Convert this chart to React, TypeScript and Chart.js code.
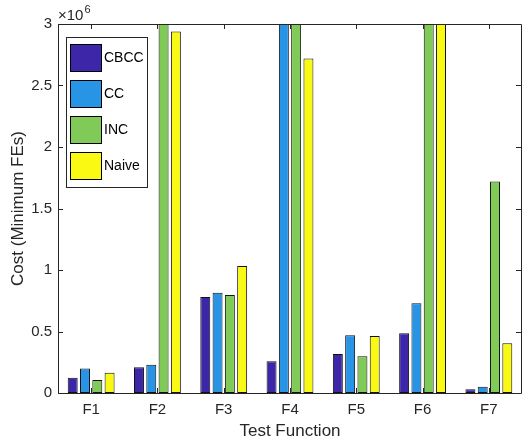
import React, { useEffect, useRef } from "react";
import { Chart, registerables } from "chart.js";

Chart.register(...registerables);

const categories = ["F1", "F2", "F3", "F4", "F5", "F6", "F7"];
const seriesNames = ["CBCC", "CC", "INC", "Naive"];
const cbcc = [0.124e6, 0.21e6, 0.78e6, 0.258e6, 0.317e6, 0.485e6, 0.03e6];
const cc = [0.2e6, 0.23e6, 0.815e6, 3.5e6, 0.469e6, 0.73e6, 0.05e6];
const inc = [0.105e6, 3.5e6, 0.797e6, 3.5e6, 0.298e6, 3.5e6, 1.72e6];
const naive = [0.165e6, 2.94e6, 1.032e6, 2.72e6, 0.463e6, 3.5e6, 0.404e6];
const seriesColors = ["#3e26a8", "#2894e6", "#80cb58", "#f9f914"];
const yTickValues = [0, 0.5e6, 1e6, 1.5e6, 2e6, 2.5e6, 3e6];

const FONT = '"Liberation Sans", Arial, Helvetica, sans-serif';
const AXIS_COLOR = "#262626";

const framePlugin = {
  id: "matlabFrame",
  afterDraw(chart: any) {
    const { ctx, chartArea } = chart;
    const { left, right, top, bottom } = chartArea;
    const xs = chart.scales.x;
    const ys = chart.scales.y;
    ctx.save();
    ctx.strokeStyle = AXIS_COLOR;
    ctx.lineWidth = 1;
    ctx.beginPath();
    ctx.rect(Math.round(left) + 0.5, Math.round(top) + 0.5, Math.round(right - left) - 1, Math.round(bottom - top));
    ctx.stroke();
    // inward ticks
    ctx.beginPath();
    const tl = 5;
    yTickValues.forEach((v) => {
      const y = Math.round(ys.getPixelForValue(v)) + 0.5;
      ctx.moveTo(left, y);
      ctx.lineTo(left + tl, y);
      ctx.moveTo(right - 1, y);
      ctx.lineTo(right - 1 - tl, y);
    });
    categories.forEach((_, i) => {
      const x = Math.round(xs.getPixelForValue(i)) + 0.5;
      ctx.moveTo(x, top);
      ctx.lineTo(x, top + tl);
      ctx.moveTo(x, bottom);
      ctx.lineTo(x, bottom - tl);
    });
    ctx.stroke();
    // exponent label
    ctx.fillStyle = AXIS_COLOR;
    ctx.textBaseline = "alphabetic";
    ctx.textAlign = "left";
    ctx.font = `15px ${FONT}`;
    const base = "\u00d710";
    ctx.fillText(base, left, top - 4);
    const w = ctx.measureText(base).width;
    ctx.font = `11px ${FONT}`;
    ctx.fillText("6", left + w + 1, top - 11);
    // legend
    const lx = 66.5, ly = 37.5, lw = 81, lh = 150;
    ctx.fillStyle = "#ffffff";
    ctx.fillRect(lx, ly, lw, lh);
    ctx.strokeStyle = AXIS_COLOR;
    ctx.strokeRect(lx, ly, lw, lh);
    seriesNames.forEach((name, i) => {
      const py = 44 + i * 36;
      ctx.fillStyle = seriesColors[i];
      ctx.fillRect(70.5, py + 0.5, 31, 27);
      ctx.strokeStyle = "#000000";
      ctx.strokeRect(70.5, py + 0.5, 31, 27);
      ctx.fillStyle = "#000000";
      ctx.font = `14px ${FONT}`;
      ctx.textBaseline = "middle";
      ctx.fillText(name, 104, py + 14.5);
    });
    ctx.restore();
  },
};

export default function App() {
  const ref = useRef<HTMLCanvasElement>(null);
  useEffect(() => {
    if (!ref.current) return;
    const data = [cbcc, cc, inc, naive];
    const chart = new Chart(ref.current, {
      type: "bar",
      data: {
        labels: categories,
        datasets: seriesNames.map((name, i) => ({
          label: name,
          data: data[i],
          backgroundColor: seriesColors[i],
          borderColor: "#111111",
          borderWidth: 1,
          borderSkipped: false,
          categoryPercentage: 0.742,
          barPercentage: 0.81,
        })),
      },
      plugins: [framePlugin],
      options: {
        animation: false,
        responsive: false,
        maintainAspectRatio: false,
        layout: { padding: { left: 0, right: 1, top: 24, bottom: 0 } },
        plugins: {
          legend: { display: false },
          tooltip: { enabled: false },
        },
        scales: {
          x: {
            grid: { display: false, drawTicks: false },
            border: { display: false },
            ticks: {
              color: AXIS_COLOR,
              font: { family: FONT, size: 15 },
              padding: 8,
            },
            title: {
              display: true,
              text: "Test Function",
              color: AXIS_COLOR,
              font: { family: FONT, size: 17 },
              padding: { top: 0, bottom: 5 },
            },
            afterFit: (s: any) => {
              s.height = 54;
            },
          },
          y: {
            min: 0,
            max: 3e6,
            grid: { display: false, drawTicks: false },
            border: { display: false },
            ticks: {
              stepSize: 0.5e6,
              color: AXIS_COLOR,
              font: { family: FONT, size: 15 },
              padding: 6,
              callback: (v: any) => String(Number(v) / 1e6),
            },
            title: {
              display: true,
              text: "Cost (Minimum FEs)",
              color: AXIS_COLOR,
              font: { family: FONT, size: 17 },
              padding: { top: 8, bottom: 0 },
            },
            afterFit: (s: any) => {
              s.width = 58;
            },
          },
        },
      },
    });
    return () => chart.destroy();
  }, []);
  return (
    <div style={{ position: "absolute", left: 0, top: 0, width: 523, height: 447, background: "#fff" }}>
      <canvas ref={ref} width={523} height={447} style={{ display: "block", width: 523, height: 447 }} />
    </div>
  );
}
